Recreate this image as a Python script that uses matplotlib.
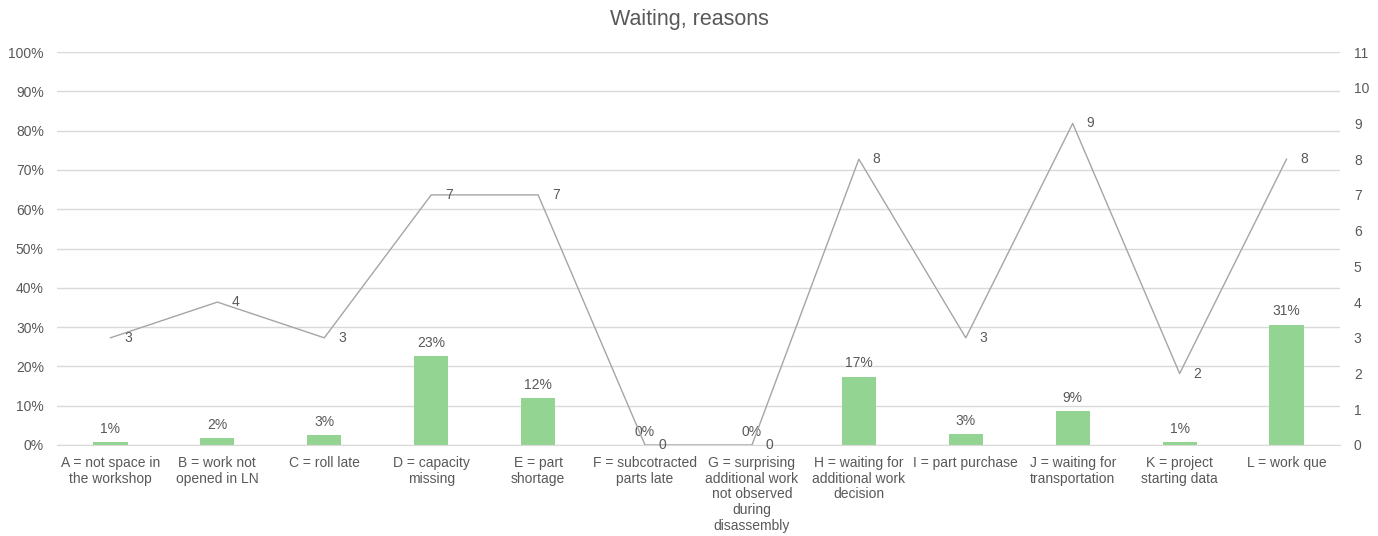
import matplotlib
matplotlib.use("Agg")
import matplotlib.pyplot as plt
from matplotlib.ticker import FuncFormatter, MultipleLocator

categories = [
    "A = not space in\nthe workshop",
    "B = work not\nopened in LN",
    "C = roll late",
    "D = capacity\nmissing",
    "E = part\nshortage",
    "F = subcotracted\nparts late",
    "G = surprising\nadditional work\nnot observed\nduring\ndisassembly",
    "H = waiting for\nadditional work\ndecision",
    "I = part purchase",
    "J = waiting for\ntransportation",
    "K = project\nstarting data",
    "L = work que",
]
share_pct = [0.8, 1.7, 2.6, 22.6, 11.9, 0.0, 0.0, 17.4, 2.8, 8.6, 0.7, 30.6]
counts = [3, 4, 3, 7, 7, 0, 0, 8, 3, 9, 2, 8]

plt.rcParams['font.family'] = ['Liberation Sans', 'DejaVu Sans']
text_c = '#595959'
grid_c = '#d9d9d9'

fig = plt.figure(figsize=(13.78, 5.36), dpi=100)
ax = fig.add_axes([57/1378, 1-445/536, (1340-57)/1378, (445-52)/536])
x = list(range(len(categories)))

ax.bar(x, share_pct, width=0.32, color='#94d492', zorder=2)
ax.set_ylim(0, 100)
ax.set_xlim(-0.5, len(categories)-0.5)
ax.yaxis.set_major_locator(MultipleLocator(10))
ax.yaxis.set_major_formatter(FuncFormatter(lambda v, p: f"{v:.0f}%"))
ax.grid(axis='y', color=grid_c, linewidth=1, zorder=0)
for s in ['top', 'left', 'right']:
    ax.spines[s].set_visible(False)
ax.spines['bottom'].set_color(grid_c)
ax.tick_params(axis='both', length=0, colors=text_c, labelsize=10)
ax.tick_params(axis='y', pad=9.5)
ax.set_xticks(x)
ax.set_xticklabels(categories, fontsize=10, color=text_c, linespacing=1.15, va='top')
ax.tick_params(axis='x', pad=8)

for xi, v in zip(x, share_pct):
    ax.annotate(f"{v:.0f}%", (xi, v), xytext=(0, 4.5), textcoords='offset points',
                ha='center', va='bottom', fontsize=10, color=text_c, zorder=5)

ax2 = ax.twinx()
ax2.plot(x, counts, color='#a5a5a5', linewidth=1.0, zorder=3)
ax2.set_ylim(0, 11)
ax2.yaxis.set_major_locator(MultipleLocator(1))
for s in ['top', 'left', 'right', 'bottom']:
    ax2.spines[s].set_visible(False)
ax2.tick_params(axis='y', length=0, colors=text_c, labelsize=10, pad=10)
for xi, v in zip(x, counts):
    ax2.annotate(f"{v}", (xi, v), xytext=(10, 0), textcoords='offset points',
                 ha='left', va='center', fontsize=10, color=text_c)

fig.text(0.5, 1-19/536, "Waiting, reasons", ha='center', va='center', fontsize=15.5, color=text_c)

fig.savefig("out.png", dpi=100)
